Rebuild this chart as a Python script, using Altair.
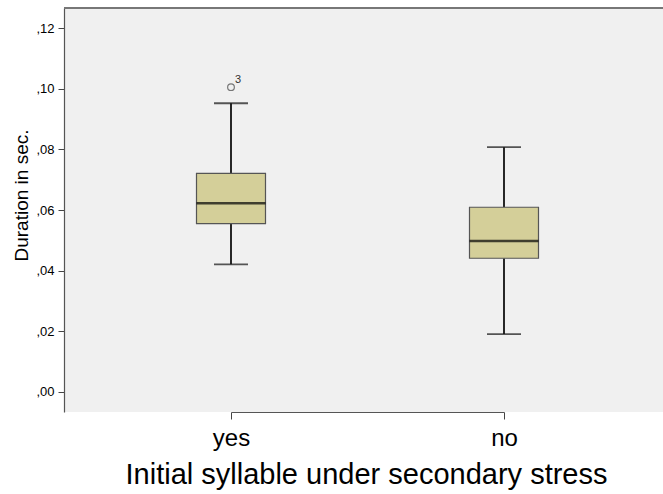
import altair as alt
import pandas as pd

# Box-plot summary per group (seconds)
groups = ["yes", "no"]
whisker_low = [0.0421, 0.0191]
q1 = [0.0555, 0.0441]
median = [0.0622, 0.0498]
q3 = [0.0721, 0.0609]
whisker_high = [0.0952, 0.0807]

# Outlying case
outlier_group = ["yes"]
outlier_value = [0.1005]
outlier_case = ["3"]

y_ticks = [0.00, 0.02, 0.04, 0.06, 0.08, 0.10, 0.12]

W, H = 599, 404
FONT = "Liberation Sans"

box = pd.DataFrame({
    "group": groups, "low": whisker_low, "q1": q1,
    "median": median, "q3": q3, "high": whisker_high,
})
out = pd.DataFrame({"group": outlier_group, "value": outlier_value, "case": outlier_case})

x_enc = alt.X(
    "group:N",
    scale=alt.Scale(type="point", domain=groups, range=[167, 440], padding=0),
    axis=alt.Axis(
        title="Initial syllable under secondary stress",
        labelAngle=0, labelFontSize=24, labelFont=FONT, labelColor="#000",
        labelBaseline="alphabetic", labelPadding=26,
        tickSize=7, tickColor="#444", domainColor="#555", domainWidth=1.2,
        titleFontSize=29, titleFont=FONT, titleFontWeight="normal", titleColor="#000",
        titleX=302, titleY=71, titleBaseline="alphabetic", titleAnchor="middle", titleAlign="center",
        grid=False,
    ),
)
y_scale = alt.Scale(domain=[-0.0066, 0.1266], nice=False, zero=False)
y_axis = alt.Axis(
    title="Duration in sec.",
    values=y_ticks,
    labelExpr="',' + substring(format(datum.value, '.2f'), 2)",
    labelFontSize=13, labelFont=FONT, labelColor="#000", labelPadding=4,
    tickSize=6, tickColor="#444", domainColor="#555", domainWidth=1.2,
    titleFontSize=19, titleFont=FONT, titleFontWeight="normal", titleColor="#000",
    titleX=-43, titleY=187, titleAngle=-90, titleBaseline="middle", titleAlign="center",
    grid=False,
)

base = alt.Chart(box)

lower_whisker = base.mark_rule(color="#111", strokeWidth=1.8).encode(
    x=x_enc, y=alt.Y("low:Q", scale=y_scale, axis=y_axis), y2="q1:Q"
)
upper_whisker = base.mark_rule(color="#111", strokeWidth=1.8).encode(
    x="group:N", y="q3:Q", y2="high:Q"
)
caps_low = base.mark_tick(color="#111", thickness=1.8, size=34, orient="horizontal").encode(
    x="group:N", y="low:Q"
)
caps_high = base.mark_tick(color="#111", thickness=1.8, size=34, orient="horizontal").encode(
    x="group:N", y="high:Q"
)
boxes = base.mark_bar(size=69, fill="#d4cf99", stroke="#555", strokeWidth=1.2).encode(
    x="group:N", y="q1:Q", y2="q3:Q"
)
medians = base.mark_tick(color="#000", thickness=2.5, size=69, orient="horizontal").encode(
    x="group:N", y="median:Q"
)

out_pts = alt.Chart(out).mark_point(
    shape="circle", filled=False, size=45, color="#444", strokeWidth=1.2
).encode(x="group:N", y="value:Q")
out_lbl = alt.Chart(out).mark_text(
    fontSize=11, font=FONT, color="#333", dx=7, dy=-7
).encode(x="group:N", y="value:Q", text="case:N")

# top border of the plot frame
top_border = alt.Chart(box).mark_rule(color="#777", strokeWidth=2).encode(
    x=alt.value(0), x2=alt.value(W), y=alt.value(0)
)

chart = (
    alt.layer(lower_whisker, upper_whisker, caps_low, caps_high, boxes, medians,
              out_pts, out_lbl, top_border)
    .properties(
        width=W, height=H,
        autosize=alt.AutoSizeParams(type="none"),
        padding={"left": 64, "top": 8, "right": 0, "bottom": 82},
        background="#ffffff",
    )
    .configure_view(fill="#f0f0f0", stroke=None)
)

chart.save("out.html", embed_options={"renderer": "svg", "actions": False})
